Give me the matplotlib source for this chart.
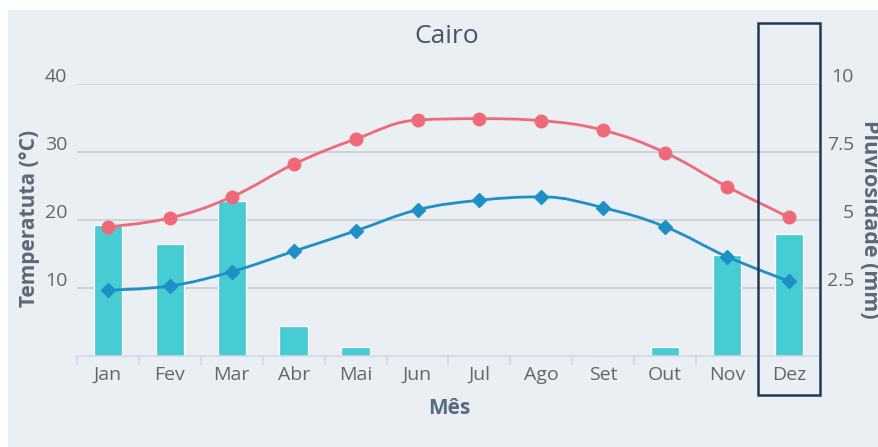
import matplotlib.pyplot as plt
from matplotlib.path import Path
from matplotlib.patches import PathPatch, Rectangle
from matplotlib.transforms import ScaledTranslation, blended_transform_factory

plt.rcParams['font.family'] = ['Open Sans', 'DejaVu Sans']

# Dados (Cairo)
meses = ['Jan', 'Fev', 'Mar', 'Abr', 'Mai', 'Jun', 'Jul', 'Ago', 'Set', 'Out', 'Nov', 'Dez']
temp_max = [19.0, 20.3, 23.4, 28.2, 31.9, 34.7, 34.9, 34.6, 33.2, 29.9, 24.9, 20.4]
temp_min = [9.7, 10.3, 12.4, 15.4, 18.4, 21.5, 22.9, 23.4, 21.8, 19.0, 14.6, 11.0]
chuva = [4.8, 4.1, 5.7, 1.1, 0.33, 0.0, 0.0, 0.0, 0.05, 0.33, 3.7, 4.5]
mes_destaque = 11

temp_ticks = [10, 20, 30, 40]
chuva_ticks = [2.5, 5, 7.5, 10]
chuva_labels = ['2.5', '5', '7.5', '10']

BG = '#eaeff4'
VERMELHO = '#ef6a78'
AZUL = '#1f8fc8'
BARRA = '#47ccd4'
TXT = '#666666'


def spline(xs, ys, s=1.5):
    # curva suave no estilo "spline" do Highcharts
    d = s + 1
    n = len(xs)
    verts = [(xs[0], ys[0])]
    codes = [Path.MOVETO]
    prev = (xs[0], ys[0])
    for i in range(1, n):
        x, y = xs[i], ys[i]
        if i < n - 1:
            lx = (s * x + xs[i - 1]) / d
            ly = (s * y + ys[i - 1]) / d
            rx = (s * x + xs[i + 1]) / d
            ry = (s * y + ys[i + 1]) / d
            corr = ((ry - ly) * (rx - x)) / (rx - lx) + y - ry
            ly += corr
            ry += corr
            if ly > max(ys[i - 1], y):
                ly = max(ys[i - 1], y)
                ry = 2 * y - ly
            elif ly < min(ys[i - 1], y):
                ly = min(ys[i - 1], y)
                ry = 2 * y - ly
            if ry > max(y, ys[i + 1]):
                ry = max(y, ys[i + 1])
                ly = 2 * y - ry
            elif ry < min(y, ys[i + 1]):
                ry = min(y, ys[i + 1])
                ly = 2 * y - ry
        else:
            lx, ly, rx, ry = x, y, x, y
        verts += [prev, (lx, ly), (x, y)]
        codes += [Path.CURVE4] * 3
        prev = (rx, ry)
    return Path(verts, codes)


W, H = 879, 447
fig = plt.figure(figsize=(W / 100, H / 100), dpi=100, facecolor='white')
fig.patches.append(Rectangle((8 / W, 0), 1, 1 - 10 / H, transform=fig.transFigure,
                             facecolor=BG, edgecolor='none', zorder=-10))

x0, x1, y0, y1 = 77, 820, 356, 84
ax2 = fig.add_axes([x0 / W, (H - y0) / H, (x1 - x0) / W, (y0 - y1) / H])
ax = ax2.twinx()
ax.yaxis.tick_left()
ax.yaxis.set_label_position('left')
ax2.yaxis.tick_right()
ax2.yaxis.set_label_position('right')
ax.set_zorder(ax2.get_zorder() + 1)
ax.patch.set_visible(False)
ax2.patch.set_visible(False)

xs = list(range(len(meses)))

# chuva (eixo direito) com grelha
ax2.bar(xs, chuva, width=0.46, color=BARRA, edgecolor='white', linewidth=0.9, zorder=2)
ax2.set_ylim(0, 10)
ax2.set_xlim(-0.5, len(meses) - 0.5)
ax2.set_yticks(chuva_ticks)
ax2.set_yticklabels(chuva_labels)
ax2.grid(axis='y', color='#c9cdd1', linewidth=1.2, zorder=0)
ax2.set_axisbelow(True)

# temperaturas (eixo esquerdo)
ax.set_ylim(0, 40)
ax.add_patch(PathPatch(spline(xs, temp_max), facecolor='none', edgecolor=VERMELHO, linewidth=2.0, zorder=3))
ax.add_patch(PathPatch(spline(xs, temp_min), facecolor='none', edgecolor=AZUL, linewidth=2.0, zorder=3))
ax.plot(xs, temp_max, linestyle='none', marker='o', markersize=9, color=VERMELHO, zorder=4)
ax.plot(xs, temp_min, linestyle='none', marker='D', markersize=7.5, color=AZUL, zorder=4)
ax.set_yticks(temp_ticks)

# eixo x: marcas nos limites das categorias, rótulos no centro
ax2.set_xticks([i - 0.5 for i in range(len(meses) + 1)])
ax2.set_xticklabels([])
ax2.set_xticks(xs, minor=True)
ax2.set_xticklabels(meses, minor=True)
ax2.tick_params(axis='x', which='major', length=6.5, width=1.1, color='#ccd6eb')
ax2.tick_params(axis='x', which='minor', length=0, pad=7, labelsize=14, labelcolor=TXT)
ax.tick_params(axis='y', length=0, pad=7, labelsize=14, labelcolor=TXT)
ax2.tick_params(axis='y', length=0, pad=24.5, labelsize=14, labelcolor=TXT)

for a in (ax, ax2):
    for sp in a.spines.values():
        sp.set_visible(False)
ax2.spines['bottom'].set_visible(True)
ax2.spines['bottom'].set_color('#ccd6eb')
ax2.spines['bottom'].set_linewidth(1.1)

up = ScaledTranslation(0, 9 / 100, fig.dpi_scale_trans)
for lab in ax.get_yticklabels():
    lab.set_transform(lab.get_transform() + up)
for lab in ax2.get_yticklabels():
    lab.set_horizontalalignment('right')
    lab.set_transform(lab.get_transform() + up)

# títulos
ax.set_title('Cairo', fontsize=19, color='#4a5468', x=(447 - x0) / (x1 - x0),
             y=(y0 - 45) / (y0 - y1), va='center')
ax.set_ylabel('Temperatuta (°C)', fontsize=15, fontweight='bold', color='#5d6777', va='center')
ax.yaxis.set_label_coords((29 - x0) / (x1 - x0), (y0 - 218) / (y0 - y1))
ax2.set_ylabel('Pluviosidade (mm)', fontsize=15.5, fontweight='bold', color='#5d6777',
               rotation=270, va='center')
ax2.yaxis.set_label_coords((869 - x0) / (x1 - x0), (y0 - 219) / (y0 - y1))
ax2.set_xlabel('Mês', fontsize=15, fontweight='bold', color='#5a6a82', va='center')
ax2.xaxis.set_label_coords((449 - x0) / (x1 - x0), (y0 - 408) / (y0 - y1))

# destaque do mês de dezembro
trans = blended_transform_factory(ax.transData, ax.transAxes)
ax.add_patch(Rectangle((mes_destaque - 0.5, (y0 - 395) / (y0 - y1)), 1.0, (395 - 23) / (y0 - y1),
                       transform=trans, facecolor='none', edgecolor='#1e3a56',
                       linewidth=1.8, clip_on=False, zorder=10))

fig.savefig('out.png', dpi=100, facecolor='white')
